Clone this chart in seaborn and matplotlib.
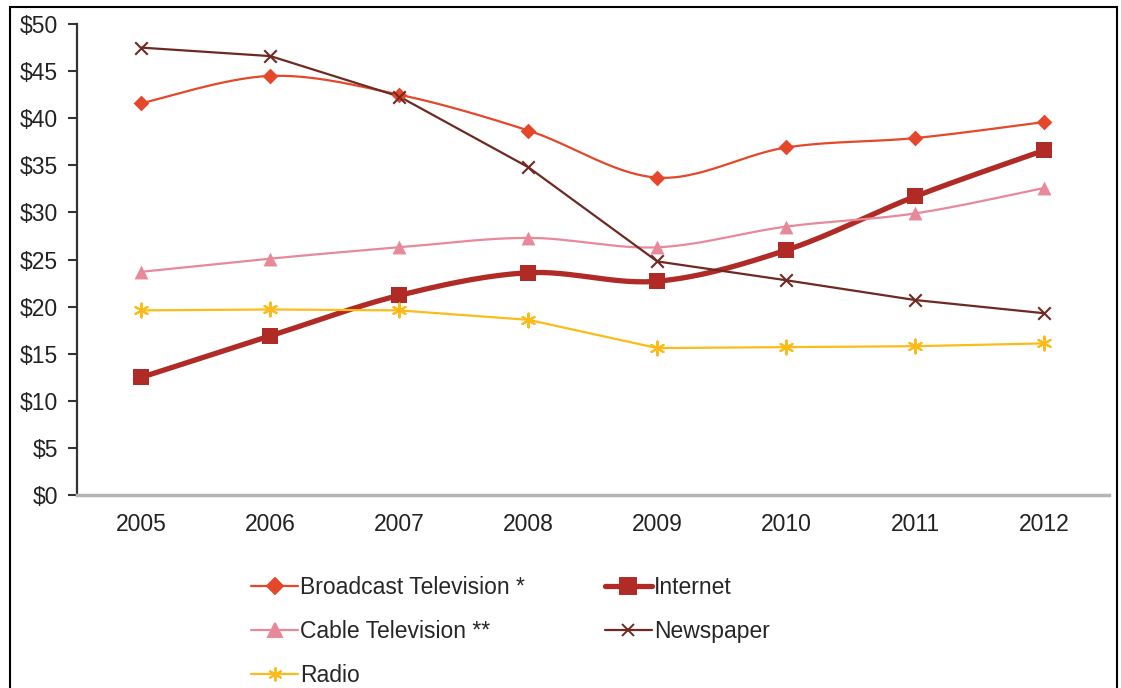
import numpy as np
import pandas as pd
import matplotlib
matplotlib.use('Agg')
import matplotlib.pyplot as plt
import seaborn as sns
from matplotlib.lines import Line2D
from matplotlib.patches import Rectangle

years = ['2005', '2006', '2007', '2008', '2009', '2010', '2011', '2012']

broadcast_tv = [41.6, 44.5, 42.5, 38.7, 33.7, 36.9, 37.9, 39.6]
internet = [12.5, 16.9, 21.2, 23.6, 22.7, 26.0, 31.7, 36.6]
cable_tv = [23.7, 25.1, 26.3, 27.3, 26.3, 28.5, 29.9, 32.6]
newspaper = [47.5, 46.6, 42.3, 34.8, 24.8, 22.8, 20.7, 19.3]
radio = [19.6, 19.7, 19.6, 18.6, 15.6, 15.7, 15.8, 16.1]

y_ticks = [0, 5, 10, 15, 20, 25, 30, 35, 40, 45, 50]


def smooth(xs, ys, n=30):
    # excel-like smoothed line (catmull-rom bezier)
    xs = np.asarray(xs, float)
    ys = np.asarray(ys, float)
    pts = np.column_stack([xs, ys])
    out = []
    for i in range(len(pts) - 1):
        p0 = pts[max(i - 1, 0)]
        p1 = pts[i]
        p2 = pts[i + 1]
        p3 = pts[min(i + 2, len(pts) - 1)]
        c1 = p1 + (p2 - p0) / 6
        c2 = p2 - (p3 - p1) / 6
        t = np.linspace(0, 1, n)[:, None]
        seg = ((1 - t) ** 3) * p1 + 3 * ((1 - t) ** 2) * t * c1 + 3 * (1 - t) * t ** 2 * c2 + t ** 3 * p2
        out.append(seg if i == 0 else seg[1:])
    out = np.vstack(out)
    return out[:, 0], out[:, 1]


def main():
    sns.set_style('white')
    plt.rcParams['font.family'] = ['Liberation Sans', 'DejaVu Sans']
    fs = 16.5

    fig = plt.figure(figsize=(11.21, 6.88), dpi=100)
    ax = fig.add_axes([0.0687, 0.2805, 0.9203, 0.6845])

    x = np.arange(len(years))

    series = [
        ('Broadcast Television *', broadcast_tv, '#E5472A', 'D', 8, 1.6, True),
        ('Internet', internet, '#B02A26', 's', 11, 3.8, True),
        ('Cable Television **', cable_tv, '#E8899A', '^', 10, 1.6, True),
        ('Newspaper', newspaper, '#6E2A22', 'x', 9, 1.6, False),
        ('Radio', radio, '#FDBB1A', (6, 2, 0), 10, 1.6, False),
    ]

    handles = {}
    for name, vals, color, marker, ms, lw, smoothed in series:
        if smoothed:
            sx, sy = smooth(x, vals)
        else:
            sx, sy = x, vals
        ax.plot(sx, sy, color=color, lw=lw, solid_capstyle='round', zorder=2)
        df = pd.DataFrame({'x': x, 'y': vals})
        filled = marker in ('D', 's', '^')
        sns.scatterplot(data=df, x='x', y='y', ax=ax, marker=marker, s=ms ** 2,
                        color=color, edgecolor=color if filled else None,
                        linewidth=1.5 if not filled else 0, zorder=3, legend=False)
        handles[name] = Line2D([], [], color=color, lw=lw, marker=marker,
                               markersize=ms, markeredgewidth=1.4,
                               markerfacecolor=color, markeredgecolor=color)

    ax.set_xlim(-0.5, len(years) - 0.5)
    ax.set_ylim(0, 50)
    ax.set_yticks(y_ticks)
    ax.set_yticklabels(['$%d' % v for v in y_ticks], fontsize=fs, color='#222222')
    ax.set_xticks(x)
    ax.set_xticklabels(years, fontsize=fs, color='#222222')
    ax.set_xticks(np.arange(-0.5, len(years)), minor=True)
    ax.tick_params(axis='x', which='major', length=0, pad=13)
    ax.tick_params(axis='x', which='minor', length=6, width=2, color='#AAAAAA', direction='out')
    ax.tick_params(axis='y', length=6.5, width=1.5, color='#333333', pad=7, direction='out', left=True)
    ax.set_xlabel('')
    ax.set_ylabel('')

    for side in ['top', 'right']:
        ax.spines[side].set_visible(False)
    ax.spines['left'].set_color('#333333')
    ax.spines['left'].set_linewidth(1.6)
    ax.spines['bottom'].set_color('#B5B5B5')
    ax.spines['bottom'].set_linewidth(2.5)

    order = ['Broadcast Television *', 'Cable Television **', 'Radio', 'Internet', 'Newspaper']
    fig.legend([handles[k] for k in order], order, ncol=2, frameon=False,
               fontsize=fs, loc='upper left', bbox_to_anchor=(0.224, 0.163),
               handlelength=2.05, handletextpad=0.1, columnspacing=3.48,
               labelspacing=0.92, borderaxespad=0, borderpad=0)

    # border around the figure
    fig.patches.append(Rectangle((0.0089, -0.05), 0.9875, 1.0398, transform=fig.transFigure,
                                 fill=False, edgecolor='black', lw=1.5, clip_on=False))

    fig.savefig('out.png', dpi=100)


if __name__ == '__main__':
    main()
